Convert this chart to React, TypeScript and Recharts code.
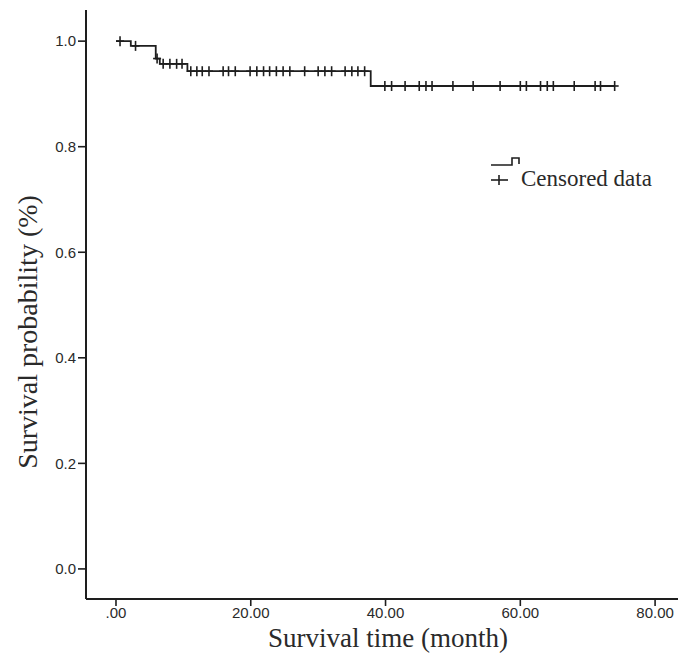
import { LineChart, Line, XAxis, YAxis, Label } from 'recharts';

// Kaplan-Meier estimate
const eventTimes = [0, 2.2, 5.9, 6.5, 10.6, 37.8];
const eventSurvival = [1.0, 0.991, 0.967, 0.957, 0.943, 0.915];

const censorTimes = [
  0.6, 2.9, 6.1, 7.0, 8.0, 9.0, 9.8,
  11.1, 12.0, 12.8, 13.8, 15.9, 16.7, 17.7, 19.9, 20.9, 21.9, 22.8, 23.8, 24.8, 25.8,
  28.0, 30.0, 31.0, 32.0, 34.0, 35.0, 35.9, 36.9,
  39.9, 40.9, 42.9, 45.0, 46.0, 46.9, 50.0, 53.0, 57.0, 60.0, 60.9, 63.0, 64.0, 64.9,
  68.0, 71.1, 71.9, 74.0,
];

const xTicks = [0, 20, 40, 60, 80];
const yTicks = [0, 0.2, 0.4, 0.6, 0.8, 1.0];

const survivalAt = (t: number) => {
  let s = eventSurvival[0];
  eventTimes.forEach((et, i) => {
    if (et <= t) s = eventSurvival[i];
  });
  return s;
};

const data = [
  ...eventTimes.map((t, i) => ({ t, s: eventSurvival[i], censored: false })),
  ...censorTimes.map((t) => ({ t, s: survivalAt(t), censored: true })),
].sort((a, b) => a.t - b.t);

const ink = '#1e1e1e';
const textColor = '#2a2a2a';
const serif = '"Liberation Serif", "Times New Roman", serif';
const sans = '"Liberation Sans", Arial, sans-serif';

const CensorMark = (props: any) => {
  const { cx, cy, payload, index } = props;
  if (!payload || !payload.censored) return <g key={`c-${index}`} />;
  return (
    <g key={`c-${index}`} stroke={ink} strokeWidth={1.6}>
      <line x1={cx - 4} x2={cx + 4} y1={cy} y2={cy} />
      <line x1={cx} x2={cx} y1={cy - 5} y2={cy + 5} />
    </g>
  );
};

const XTitle = (props: any) => {
  const vb = props.viewBox;
  return (
    <text x={vb.x + vb.width / 2 + 6} y={vb.y + 48} textAnchor="middle"
      fontFamily={serif} fontSize={27} fill={textColor}>
      Survival time (month)
    </text>
  );
};

const YTitle = (props: any) => {
  const vb = props.viewBox;
  const x = vb.x + 37;
  const y = vb.y + 322;
  return (
    <text x={x} y={y} transform={`rotate(-90, ${x}, ${y})`} textAnchor="middle"
      fontFamily={serif} fontSize={28} fill={textColor}>
      Survival probability (%)
    </text>
  );
};

export default function App() {
  return (
    <div style={{ position: 'absolute', left: 0, top: 0, width: 678, height: 667, background: '#fff' }}>
      <LineChart width={678} height={667} data={data}
        margin={{ top: 10, right: 0, bottom: 0, left: 0 }}>
        <XAxis
          dataKey="t"
          type="number"
          domain={[-4.45, 83.4]}
          allowDataOverflow
          ticks={xTicks}
          tickFormatter={(v: number) => (v === 0 ? '.00' : v.toFixed(2))}
          height={68}
          tickSize={7}
          tickMargin={1}
          axisLine={{ stroke: ink, strokeWidth: 2 }}
          tickLine={{ stroke: ink, strokeWidth: 1.6 }}
          tick={{ fill: textColor, fontSize: 15, fontFamily: sans }}
        >
          <Label content={XTitle} />
        </XAxis>
        <YAxis
          type="number"
          domain={[-0.057, 1.059]}
          allowDataOverflow
          ticks={yTicks}
          tickFormatter={(v: number) => v.toFixed(1)}
          width={86}
          tickSize={8}
          axisLine={{ stroke: ink, strokeWidth: 2 }}
          tickLine={{ stroke: ink, strokeWidth: 1.6 }}
          tick={{ fill: textColor, fontSize: 15, fontFamily: sans }}
        >
          <Label content={YTitle} />
        </YAxis>
        <Line
          type="stepAfter"
          dataKey="s"
          stroke={ink}
          strokeWidth={1.8}
          dot={CensorMark}
          activeDot={false}
          isAnimationActive={false}
        />
      </LineChart>
      <svg width={678} height={667} style={{ position: 'absolute', left: 0, top: 0, pointerEvents: 'none' }}>
        <g stroke={ink} strokeWidth={1.6} fill="none">
          <polyline points="491,165 512,165 512,158 519,158 519,164" />
          <line x1={491} x2={508} y1={180} y2={180} />
          <line x1={499} x2={499} y1={175} y2={185} />
        </g>
        <text x={521} y={186} fontFamily={serif} fontSize={23} fill={textColor}>Censored data</text>
      </svg>
    </div>
  );
}
